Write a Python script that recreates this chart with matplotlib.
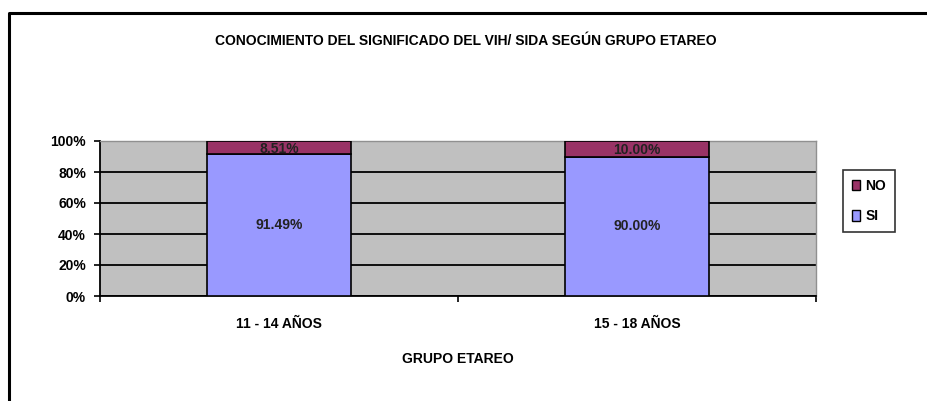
import matplotlib
matplotlib.use("Agg")
import matplotlib.pyplot as plt
from matplotlib.patches import Patch
from matplotlib.lines import Line2D
import numpy as np

plt.rcParams['font.family'] = ['Liberation Sans', 'DejaVu Sans']

categories = ["11 - 14 AÑOS", "15 - 18 AÑOS"]
si_values = [91.49, 90.00]
no_values = [8.51, 10.00]
title = "CONOCIMIENTO DEL SIGNIFICADO DEL VIH/ SIDA SEGÚN GRUPO ETAREO"
xlabel = "GRUPO ETAREO"
yticks = [0, 20, 40, 60, 80, 100]

W, H = 928, 401
FS = 10
fig = plt.figure(figsize=(W / 100, H / 100), dpi=100)
fig.patch.set_facecolor("white")

# outer frame (only top and left visible)
fig.add_artist(Line2D([9 / W, 9 / W, 1.0], [0.0, 1 - 13 / H, 1 - 13 / H],
                      transform=fig.transFigure, color="black", lw=2.2))

ax = fig.add_axes([100 / W, (H - 296) / H, 716 / W, 155 / H])
ax.set_facecolor("#C0C0C0")

x = np.arange(len(categories))
bw = 0.4
ax.bar(x, si_values, bw, color="#9999FF", edgecolor="black", lw=1.2, label="SI", zorder=3)
ax.bar(x, no_values, bw, bottom=si_values, color="#993366", edgecolor="black", lw=1.2,
       label="NO", zorder=3)

for xi, s, n in zip(x, si_values, no_values):
    ax.text(xi, s / 2, f"{s:.2f}%", ha="center", va="center", fontsize=FS,
            fontweight="bold", color="#222222", zorder=4)
    ax.text(xi, s + n / 2 - 1, f"{n:.2f}%", ha="center", va="center", fontsize=FS,
            fontweight="bold", color="#222222", zorder=4)

ax.set_xlim(-0.5, len(categories) - 0.5)
ax.set_ylim(0, 100)
ax.set_yticks(yticks)
ax.set_yticklabels([f"{v}%" for v in yticks], fontsize=FS, fontweight="bold")
ax.yaxis.grid(True, color="black", lw=1.3, zorder=1)
ax.set_axisbelow(True)

ax.set_xticks(x)
ax.set_xticklabels(categories, fontsize=FS, fontweight="bold")
ax.tick_params(axis="x", length=0, pad=15)
ax.set_xticks(np.arange(-0.5, len(categories), 1.0), minor=True)
ax.tick_params(axis="x", which="minor", length=4, width=1.2, direction="out")
ax.tick_params(axis="y", length=4, width=1.2, direction="out", pad=6)

for side in ["top", "right"]:
    ax.spines[side].set_color("#909090")
    ax.spines[side].set_linewidth(1.0)
for side in ["left", "bottom"]:
    ax.spines[side].set_color("black")
    ax.spines[side].set_linewidth(1.3)

ax.set_xlabel(xlabel, fontsize=FS, fontweight="bold", labelpad=15)

fig.text(466 / W, 1 - 41 / H, title, ha="center", va="center", fontsize=FS,
         fontweight="bold")

handles = [Patch(facecolor="#993366", edgecolor="black", label="NO"),
           Patch(facecolor="#9999FF", edgecolor="black", label="SI")]
leg = fig.legend(handles=handles, loc="center", bbox_to_anchor=(869 / W, 1 - 201 / H),
                 frameon=True, fancybox=False, edgecolor="black", fontsize=FS,
                 handlelength=0.6, handleheight=0.8, handletextpad=0.4,
                 borderpad=0.6, labelspacing=1.2, borderaxespad=0)
leg.get_frame().set_linewidth(1.2)
for t in leg.get_texts():
    t.set_fontweight("bold")

fig.savefig("out.png", dpi=100)
